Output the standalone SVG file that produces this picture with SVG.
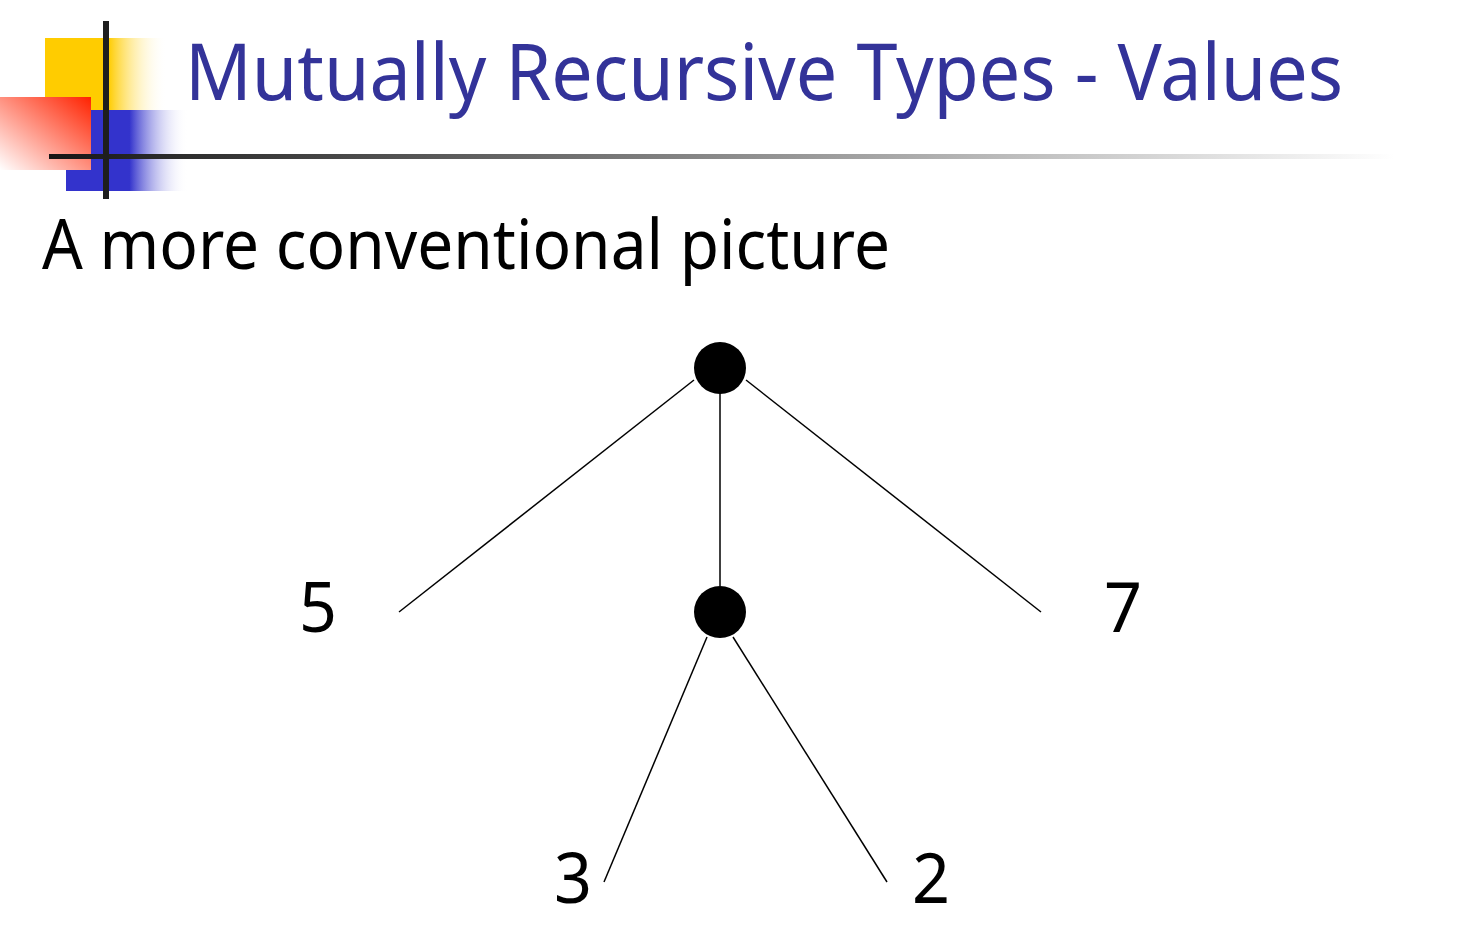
<svg xmlns="http://www.w3.org/2000/svg" width="1466" height="951" viewBox="0 0 1466 951">
<defs>
<linearGradient id="gy" x1="0" y1="0" x2="1" y2="0">
<stop offset="0" stop-color="#FFCC00"/><stop offset="0.52" stop-color="#FFCC00"/><stop offset="1" stop-color="#FFFFFF" stop-opacity="0"/>
</linearGradient>
<linearGradient id="gb" x1="0" y1="0" x2="1" y2="0">
<stop offset="0" stop-color="#3333CC"/><stop offset="0.52" stop-color="#3333CC"/><stop offset="1" stop-color="#FFFFFF" stop-opacity="0"/>
</linearGradient>
<linearGradient id="gr" x1="1" y1="0" x2="0" y2="1">
<stop offset="0" stop-color="#FF2200"/><stop offset="1" stop-color="#FFFFFF"/>
</linearGradient>
<linearGradient id="gl" x1="0" y1="0" x2="1" y2="0">
<stop offset="0" stop-color="#161616"/><stop offset="0.5" stop-color="#8a8a8a"/><stop offset="1" stop-color="#FFFFFF"/>
</linearGradient>
<style>
.t{font-family:"Noto Sans","DejaVu Sans","Liberation Sans",sans-serif}
.num{font-family:"Noto Sans","DejaVu Sans","Liberation Sans",sans-serif;font-size:69px;fill:#000}
.node{fill:#000}
.edge{stroke:#000;stroke-width:1.5;fill:none}
</style>
</defs>
<rect width="1466" height="951" fill="#fff"/>
<g id="decoration">
<rect x="45" y="38" width="122" height="72" fill="url(#gy)"/>
<rect x="66" y="110" width="122" height="81" fill="url(#gb)"/>
<rect x="0" y="97" width="91" height="73" fill="url(#gr)"/>
<rect x="49" y="154" width="1345" height="5" fill="url(#gl)"/>
<rect x="103" y="21" width="6" height="178" fill="#1e1e1e"/>
</g>
<text id="title" class="t" x="185" y="100" font-size="79" fill="#333399" textLength="1158" lengthAdjust="spacingAndGlyphs">Mutually Recursive Types - Values</text>
<text id="subtitle" class="t" x="42" y="269" font-size="69" fill="#000" textLength="848" lengthAdjust="spacingAndGlyphs">A more conventional picture</text>
<g id="connectors">
<line class="edge" x1="694" y1="380" x2="399" y2="612"/>
<line class="edge" x1="746" y1="380" x2="1041" y2="612"/>
<line class="edge" x1="720" y1="393" x2="720" y2="586"/>
<line class="edge" x1="707" y1="637" x2="604" y2="882"/>
<line class="edge" x1="733" y1="637" x2="887" y2="882"/>
</g>
<g id="root"><circle class="node" cx="720" cy="368" r="26"/></g>
<g id="inner"><circle class="node" cx="720" cy="612" r="26"/></g>
<g id="leaf5"><text class="num" x="299" y="632" textLength="38" lengthAdjust="spacingAndGlyphs">5</text></g>
<g id="leaf7"><text class="num" x="1104" y="632" textLength="38" lengthAdjust="spacingAndGlyphs">7</text></g>
<g id="leaf3"><text class="num" x="554" y="903" textLength="38" lengthAdjust="spacingAndGlyphs">3</text></g>
<g id="leaf2"><text class="num" x="912" y="903" textLength="38" lengthAdjust="spacingAndGlyphs">2</text></g>
</svg>
